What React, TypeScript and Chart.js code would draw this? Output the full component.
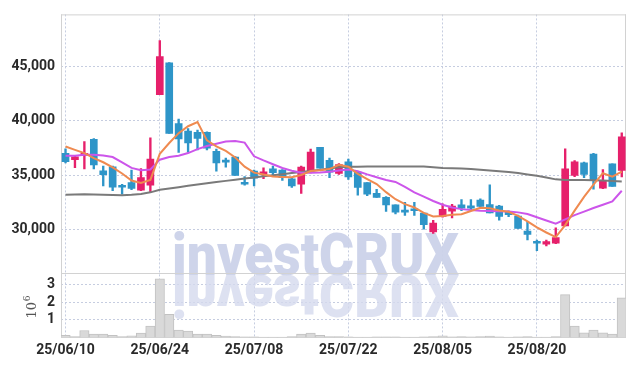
import React, { useEffect, useRef } from "react";
import { Chart, registerables } from "chart.js";

Chart.register(...registerables);

const dates = [
  "25/06/10","25/06/11","25/06/12","25/06/13","25/06/16","25/06/17","25/06/18","25/06/19","25/06/20","25/06/23",
  "25/06/24","25/06/25","25/06/26","25/06/27","25/06/30","25/07/01","25/07/02","25/07/03","25/07/04","25/07/07",
  "25/07/08","25/07/09","25/07/10","25/07/11","25/07/14","25/07/15","25/07/16","25/07/17","25/07/18","25/07/21",
  "25/07/22","25/07/23","25/07/24","25/07/25","25/07/28","25/07/29","25/07/30","25/07/31","25/08/01","25/08/04",
  "25/08/05","25/08/06","25/08/07","25/08/08","25/08/11","25/08/12","25/08/13","25/08/14","25/08/18","25/08/19",
  "25/08/20","25/08/21","25/08/22","25/08/25","25/08/26","25/08/27","25/08/28","25/08/29","25/09/01","25/09/02",
];
const tickIndexes = [0, 10, 20, 30, 40, 50];

const openP = [
  37000,36420,36820,38300,35390,35750,34060,34300,33600,34060,
  42420,45360,39750,39060,38940,38940,37180,36390,36660,34330,
  35360,35090,35570,35450,34660,34150,35360,37570,36360,35140,
  36210,35270,34300,33300,32940,32240,31640,31790,31480,29750,
  31180,31670,32240,32150,32690,32270,32120,31640,31210,29820,
  28760,28600,28700,30300,34960,36120,36940,33790,36030,35420,
];
const highP = [
  37420,36780,38090,38360,35820,35820,34150,35460,35600,38450,
  47420,45400,40180,39300,39150,39000,37400,36570,36700,34850,
  35450,35660,35820,35500,34700,35820,37390,37570,36570,36060,
  36480,35300,34300,33690,33000,32240,32480,32480,31480,30820,
  32330,32300,32730,32730,32800,34090,32200,31700,31300,30730,
  29000,29000,30120,37420,36330,36200,37000,35510,36030,38910,
];
const lowP = [
  36120,35690,35570,35570,34000,33550,33240,33640,33550,33450,
  42420,38850,37090,37120,37330,37330,35360,35730,34960,34060,
  34000,34660,34970,34510,33850,33300,35200,35640,34760,35050,
  34600,33150,33100,32940,31640,31400,31270,31270,30000,29600,
  31100,31030,31700,31800,32050,31510,30820,31150,30060,29000,
  28000,28450,28650,30300,34850,34760,33690,33750,33940,34820,
];
const closeP = [
  36240,36690,37000,35940,35030,33870,33870,33760,34760,36480,
  45940,38850,38330,37960,38390,37490,36120,36180,34960,34150,
  34700,35300,35210,34760,34000,35730,37120,35640,35270,35960,
  34820,33850,33240,32940,32240,31570,31570,31700,30420,30570,
  31820,32120,31940,31940,32090,31510,31180,31330,30060,29510,
  28700,28850,29210,35570,36210,35060,34550,34450,33940,38540,
];
const ma5 = [
  37640,37330,37030,36570,36180,35706,35142,34494,34258,34548,
  36962,37958,38872,39512,39894,38204,37658,37228,36628,35780,
  35222,35058,34864,34824,34794,35000,35364,35450,35552,35944,
  35762,35108,34628,34162,33418,32768,32312,32004,31500,31166,
  31216,31326,31374,31678,31982,31920,31732,31610,31234,30718,
  30156,29690,29266,30368,31708,32980,34120,35168,34842,35308,
];
const ma20 = [
  36780,36780,36870,36870,36800,36660,36180,35660,35450,35510,
  36420,36660,36780,37030,37390,37690,37900,38090,38150,38000,
  36730,36350,36000,35650,35400,35210,35210,35230,35300,35420,
  35500,35350,35060,34800,34550,34360,33900,33400,33000,32600,
  32250,32000,31850,31760,31700,31680,31660,31640,31550,31400,
  31100,30800,30510,30900,31300,31620,31950,32250,32570,33550,
];
const ma60 = [
  33180,33200,33220,33200,33170,33150,33140,33170,33250,33400,
  33640,33760,33880,34000,34120,34240,34350,34460,34560,34670,
  34780,34880,34980,35080,35180,35280,35380,35480,35600,35720,
  35760,35770,35780,35790,35790,35800,35800,35800,35780,35720,
  35650,35630,35610,35550,35480,35420,35360,35280,35180,35060,
  34930,34780,34600,34550,34540,34530,34520,34500,34450,34400,
];
const volume = [
  0.12,0.05,0.40,0.20,0.20,0.12,0.05,0.10,0.25,0.65,
  3.35,1.32,0.42,0.36,0.20,0.20,0.12,0.08,0.05,0.04,
  0.04,0.03,0.03,0.03,0.05,0.20,0.25,0.12,0.05,0.05,
  0.04,0.03,0.03,0.04,0.04,0.04,0.03,0.03,0.04,0.05,
  0.10,0.04,0.05,0.04,0.05,0.08,0.04,0.03,0.04,0.05,
  0.03,0.03,0.05,2.45,0.65,0.27,0.42,0.27,0.20,2.26,
];
const priceTicks = [30000, 35000, 40000, 45000];
const volumeTicks = [1, 2, 3];

const UP = "#e6206b";
const DOWN = "#2e95c8";
const FONT = 'Roboto, "DejaVu Sans", sans-serif';

const decorPlugin = {
  id: "decor",
  beforeDatasetsDraw(chart: any) {
    const ctx = chart.ctx;
    const a = chart.chartArea;
    const sep = chart.scales.y.bottom;
    const base = sep + 2;
    ctx.save();
    ctx.font = '900 56px Roboto, "DejaVu Sans", sans-serif';
    ctx.textBaseline = "alphabetic";
    ctx.fillStyle = "rgba(203,210,233,0.95)";
    ctx.save();
    ctx.translate(172, base);
    ctx.scale(0.955, 1.06);
    ctx.fillText("investCRUX", 0, 0);
    ctx.restore();
    ctx.translate(172, base);
    ctx.scale(0.955, -1.06);
    ctx.fillStyle = "rgba(212,218,237,0.8)";
    ctx.fillText("investCRUX", 0, 0);
    ctx.restore();

    ctx.save();
    ctx.strokeStyle = "#d2d2d2";
    ctx.lineWidth = 1;
    ctx.beginPath();
    ctx.moveTo(a.left + 0.5, a.top);
    ctx.lineTo(a.left + 0.5, a.bottom);
    ctx.moveTo(a.left, a.top + 0.5);
    ctx.lineTo(a.right, a.top + 0.5);
    ctx.moveTo(a.right - 0.5, a.top);
    ctx.lineTo(a.right - 0.5, a.bottom);
    ctx.moveTo(a.left, Math.round(sep) + 0.5);
    ctx.lineTo(a.right, Math.round(sep) + 0.5);
    ctx.moveTo(a.left, Math.round(a.bottom) - 0.5);
    ctx.lineTo(a.right, Math.round(a.bottom) - 0.5);
    ctx.stroke();
    ctx.restore();
  },
  afterDraw(chart: any) {
    const ctx = chart.ctx;
    const yv = chart.scales.yv;
    ctx.save();
    ctx.translate(33, (yv.top + yv.bottom) / 2 + 2);
    ctx.rotate(-Math.PI / 2);
    ctx.fillStyle = "#555";
    ctx.textBaseline = "middle";
    ctx.font = '13px "DejaVu Serif", serif';
    ctx.textAlign = "center";
    ctx.fillText("10", -3, 0);
    ctx.font = '9px "DejaVu Serif", serif';
    ctx.fillText("6", 9, -5);
    ctx.restore();
  },
};

export default function App() {
  const ref = useRef<HTMLCanvasElement | null>(null);
  useEffect(() => {
    if (!ref.current) return;
    const idx = closeP.map((_, i) => i);
    const colors = idx.map((i) => (closeP[i] >= openP[i] ? UP : DOWN));
    const tickFont = { family: FONT, size: 14, weight: "bold" };
    const chart = new Chart(ref.current, {
      type: "bar",
      data: {
        datasets: [
          {
            type: "line",
            data: idx.map((i) => ({ x: i, y: ma5[i] })),
            borderColor: "#ef8a50",
            borderWidth: 2,
            pointRadius: 0,
            yAxisID: "y",
            order: 0,
          } as any,
          {
            type: "line",
            data: idx.map((i) => ({ x: i, y: ma20[i] })),
            borderColor: "#cc55ea",
            borderWidth: 2,
            pointRadius: 0,
            yAxisID: "y",
            order: 0,
          },
          {
            type: "line",
            data: idx.map((i) => ({ x: i, y: ma60[i] })),
            borderColor: "#7a7a7a",
            borderWidth: 2,
            pointRadius: 0,
            yAxisID: "y",
            order: 0,
          },
          {
            type: "bar",
            data: idx.map((i) => ({ x: i, y: [lowP[i], highP[i]] })),
            backgroundColor: colors,
            barThickness: 1.7,
            grouped: false,
            yAxisID: "y",
            order: 2,
          },
          {
            type: "bar",
            data: idx.map((i) => ({ x: i, y: [openP[i], closeP[i]] })),
            backgroundColor: colors,
            barThickness: 7,
            minBarLength: 2,
            grouped: false,
            yAxisID: "y",
            order: 1,
          },
          {
            type: "bar",
            data: idx.map((i) => ({ x: i, y: volume[i] * 1e6 })),
            backgroundColor: "#d9d9d9",
            borderColor: "#c2c2c2",
            borderWidth: 1,
            barThickness: 9.4,
            grouped: false,
            yAxisID: "yv",
            order: 3,
          },
        ] as any,
      },
      options: {
        animation: false,
        responsive: false,
        devicePixelRatio: 1,
        layout: { padding: { top: 9, right: 8, left: 0, bottom: 0 } },
        plugins: { legend: { display: false }, tooltip: { enabled: false } },
        scales: {
          x: {
            type: "linear",
            offset: false,
            min: -0.48,
            max: 59.45,
            afterBuildTicks: (s: any) => {
              s.ticks = tickIndexes.map((v) => ({ value: v }));
            },
            afterFit: (s: any) => {
              s.height = 28.5;
            },
            ticks: {
              autoSkip: false,
              maxRotation: 0,
              padding: 5,
              color: "#2a2a2a",
              font: tickFont,
              callback: (v: any) => dates[v] ?? "",
            },
            grid: { color: "#c6cde0", drawTicks: false, lineWidth: 1, offset: false },
            border: { display: false, dash: [2, 2] },
          },
          yv: {
            type: "linear",
            position: "left",
            stack: "s",
            stackWeight: 65.5,
            min: 0,
            max: 3.68e6,
            afterBuildTicks: (s: any) => {
              s.ticks = volumeTicks.map((v) => ({ value: v * 1e6 }));
            },
            afterFit: (s: any) => {
              s.width = 61;
            },
            ticks: {
              autoSkip: false,
              padding: 6,
              color: "#2a2a2a",
              font: tickFont,
              callback: (v: any) => String(Math.round(Number(v) / 1e6)),
            },
            grid: { color: "#c6cde0", drawTicks: false },
            border: { display: false, dash: [2, 2] },
          },
          y: {
            type: "linear",
            position: "left",
            stack: "s",
            stackWeight: 263,
            min: 25940,
            max: 49845,
            afterBuildTicks: (s: any) => {
              s.ticks = priceTicks.map((v) => ({ value: v }));
            },
            afterFit: (s: any) => {
              s.width = 61;
            },
            ticks: {
              autoSkip: false,
              padding: 6,
              color: "#2a2a2a",
              font: tickFont,
              callback: (v: any) => Number(v).toLocaleString("en-US"),
            },
            grid: { color: "#c6cde0", drawTicks: false },
            border: { display: false, dash: [2, 2] },
          },
        } as any,
      },
      plugins: [decorPlugin],
    });
    return () => chart.destroy();
  }, []);
  return (
    <div style={{ position: "absolute", left: 0, top: 0, width: 634, height: 366, background: "#fff" }}>
      <canvas ref={ref} width={634} height={366} style={{ display: "block" }} />
    </div>
  );
}
